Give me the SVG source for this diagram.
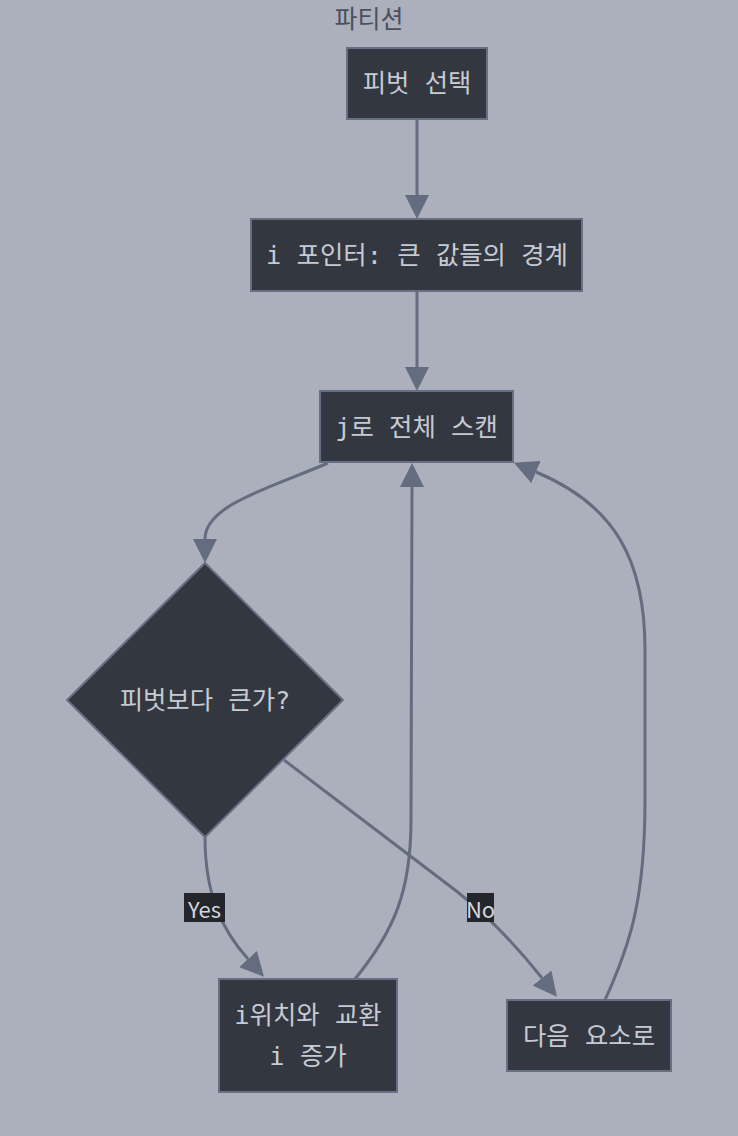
<svg xmlns="http://www.w3.org/2000/svg" width="738" height="1136" viewBox="0 0 738 1136">
<style>
.bg{fill:#abb0bc}
.node{fill:#333740;stroke:#676f82;stroke-width:2}
.t{font-family:"DejaVu Sans Mono","Noto Sans CJK KR",monospace;font-size:25.4px;fill:#c6cad3;text-anchor:middle;dominant-baseline:central}
.title{font-family:"Noto Sans CJK KR","Noto Sans",sans-serif;font-size:25px;fill:#4b505c;text-anchor:middle;dominant-baseline:central}
.edge{fill:none;stroke:#646c7f;stroke-width:3}
.lbl{fill:#24262c}
.lt{font-family:"Noto Sans CJK KR","Noto Sans",sans-serif;font-size:22px;fill:#d4d7dd;text-anchor:middle;dominant-baseline:central}
</style>
<defs>
<marker id="ah" markerUnits="userSpaceOnUse" markerWidth="24" markerHeight="24" viewBox="0 0 24 24" refX="0" refY="12" orient="auto">
<path d="M0,0 L24,12 L0,24 z" fill="#646c7f"/>
</marker>
</defs>
<rect class="bg" x="0" y="0" width="738" height="1136"/>
<text class="title" x="369" y="17">파티션</text>
<g id="edges">
<path class="edge" d="M417,119 L417,195" marker-end="url(#ah)"/>
<path class="edge" d="M417,291 L417,367" marker-end="url(#ah)"/>
<path class="edge" d="M328,463 C270,488 205,505 205,539" marker-end="url(#ah)"/>
<path class="edge" d="M205,837 C205,895 222,930 248,959" marker-end="url(#ah)"/>
<path class="edge" d="M284,760 L455,890 Q500,925 542,978" marker-end="url(#ah)"/>
<path class="edge" d="M355,979 C395,930 411,890 411,820 L412,487" marker-end="url(#ah)"/>
<path class="edge" d="M605,1000 C630,945 645,900 645,800 L645,650 C645,560 615,505 536,472" marker-end="url(#ah)"/>
<rect class="lbl" x="184" y="893" width="41" height="29"/>
<text class="lt" x="204.5" y="907.5">Yes</text>
<rect class="lbl" x="467" y="893" width="27" height="29"/>
<text class="lt" x="480.5" y="907.5">No</text>
</g>
<g id="A"><rect class="node" x="347" y="48" width="140" height="71"/><text class="t" x="417" y="83">피벗 선택</text></g>
<g id="B"><rect class="node" x="251" y="219" width="331" height="72"/><text class="t" x="417" y="255">i 포인터: 큰 값들의 경계</text></g>
<g id="C"><rect class="node" x="320" y="391" width="193" height="71"/><text class="t" x="416.5" y="426.5">j로 전체 스캔</text></g>
<g id="D"><polygon class="node" points="205,563 343,700 205,837 67,700"/><text class="t" x="205" y="700">피벗보다 큰가?</text></g>
<g id="E"><rect class="node" x="219" y="979" width="178" height="113"/><text class="t" x="308" y="1015">i위치와 교환</text><text class="t" x="308" y="1056">i 증가</text></g>
<g id="F"><rect class="node" x="507" y="1000" width="164" height="71"/><text class="t" x="589" y="1035.5">다음 요소로</text></g>
</svg>
